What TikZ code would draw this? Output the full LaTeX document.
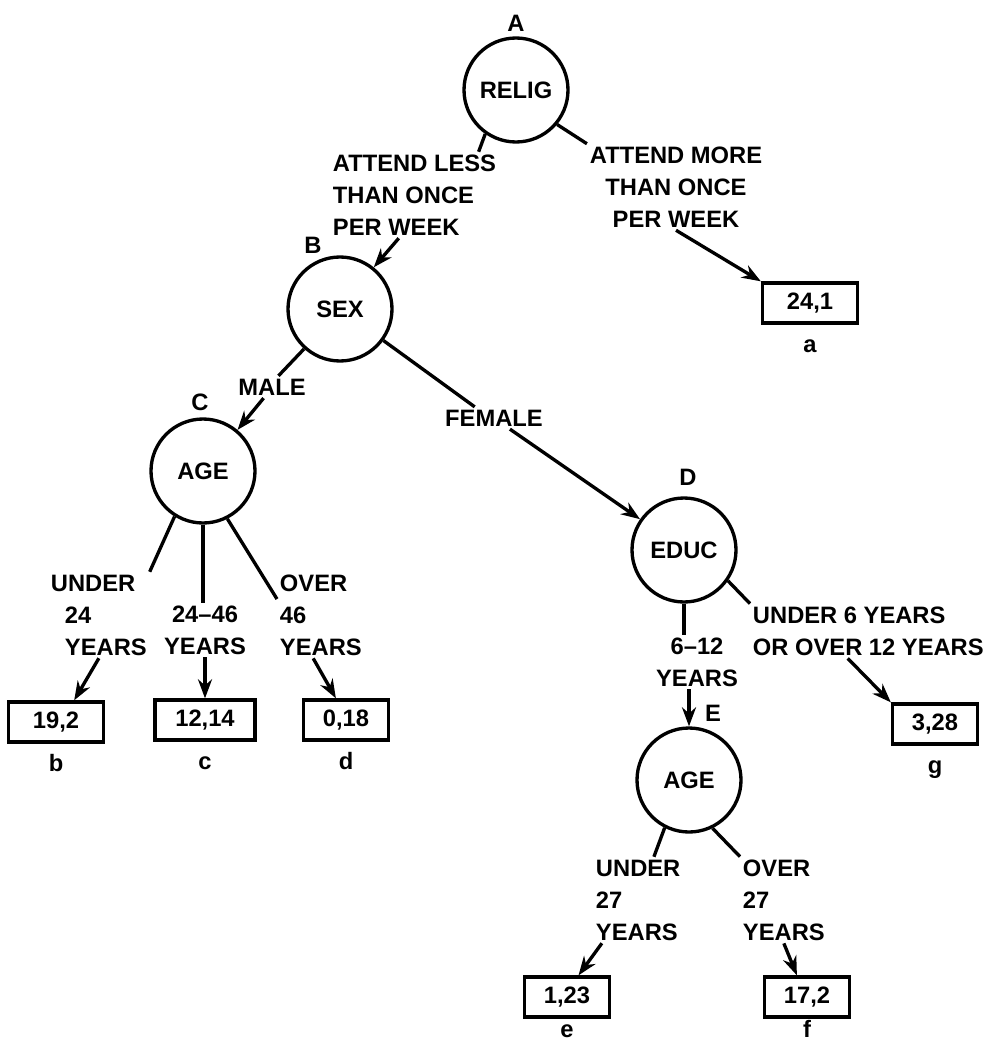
\documentclass[tikz,border=0pt]{standalone}
\usepackage{fontspec}
\setmainfont{Liberation Sans}
\usetikzlibrary{arrows.meta,positioning}
\tikzset{
  split/.style ={circle,draw=black,line width=1.9pt,minimum size=2.08cm,
                 inner sep=0pt,font=\bfseries\fontsize{13.5}{16}\selectfont},
  leaf/.style  ={rectangle,draw=black,line width=1.9pt,minimum width=1.7cm,
                 minimum height=0.8cm,inner sep=2pt,
                 font=\bfseries\fontsize{13.5}{16}\selectfont},
  cond/.style  ={font=\bfseries\fontsize{13.5}{18.2}\selectfont,inner sep=1.5pt},
  letr/.style  ={font=\bfseries\fontsize{13.5}{16}\selectfont,inner sep=1pt},
  tag/.style   ={letr,text height=0.75em,text depth=0pt},
  br/.style    ={draw=black,line width=1.9pt},
  brarr/.style ={->,draw=black,line width=1.9pt},
}

\begin{document}
\begin{tikzpicture}[
  >={Stealth[length=3.8mm,width=2.8mm]},
  x=2cm, y=-2cm,
]
\useasboundingbox (0,0) rectangle (9.92,10.48);

% splitting variables
\node[split] (A) at (5.16,0.90) {RELIG};
\node[split] (B) at (3.40,3.09) {SEX};
\node[split] (C) at (2.03,4.71) {AGE};
\node[split] (D) at (6.84,5.50) {EDUC};
\node[split] (E) at (6.89,7.80) {AGE};

\node[letr] (lA) at (5.16,0.23) {A};
\node[letr] (lB) at (3.13,2.45) {B};
\node[letr] (lC) at (2.00,4.02) {C};
\node[letr] (lD) at (6.88,4.77) {D};
\node[letr] (lE) at (7.13,7.13) {E};

% branch conditions
\node[cond,anchor=west,align=left] (tLess) at (3.30,1.95)
      {ATTEND LESS\\THAN ONCE\\PER WEEK};
\node[cond,align=center] (tMore) at (6.76,1.87)
      {ATTEND MORE\\THAN ONCE\\PER WEEK};
\node[cond] (tMale)   at (2.72,3.87) {MALE};
\node[cond] (tFemale) at (4.94,4.18) {FEMALE};
\node[cond,anchor=west,align=left] (tU24) at (0.48,6.15)
      {UNDER\\\hspace*{0.28cm}24\\\hspace*{0.28cm}YEARS};
\node[cond,align=center] (t2446) at (2.05,6.30) {24--46\\YEARS};
\node[cond,anchor=west,align=left] (tO46) at (2.77,6.15) {OVER\\46\\YEARS};
\node[cond,align=center] (t612) at (6.97,6.62) {6--12\\YEARS};
\node[cond,anchor=west,align=left] (tOut) at (7.50,6.31)
      {UNDER 6 YEARS\\OR OVER 12 YEARS};
\node[cond,anchor=west,align=left] (tU27) at (5.93,9.00) {UNDER\\27\\YEARS};
\node[cond,anchor=west,align=left] (tO27) at (7.40,9.00) {OVER\\27\\YEARS};

% terminal groups
\node[leaf,minimum width=1.9cm] (a) at (8.10,3.03) {24,1};
\node[leaf,minimum width=1.9cm] (b) at (0.56,7.22) {19,2};
\node[leaf,minimum width=2.0cm] (c) at (2.05,7.20) {12,14};
\node[leaf] (d) at (3.46,7.20) {0,18};
\node[leaf] (g) at (9.35,7.24) {3,28};
\node[leaf] (e) at (5.67,9.97) {1,23};
\node[leaf] (f) at (8.07,9.97) {17,2};

\node[tag,below=2.5mm of a] (la) {a};
\node[tag,below=2.5mm of b] (lb) {b};
\node[tag,below=2.5mm of c] (lc) {c};
\node[tag,below=2.5mm of d] (ld) {d};
\node[tag,below=2.5mm of g] (lg) {g};
\node[tag,below=0.8mm of e] (le) {e};
\node[tag,below=0.8mm of f] (lf) {f};

\draw[br]    (A.235) -- (tLess.34);
\draw[brarr] (tLess.250) -- (B.51);
\draw[br]    (A.320) -- (tMore.north west);
\draw[brarr] (tMore.south) -- (a.north west);

\draw[br]    (B.228) -- (tMale.60);
\draw[brarr] (tMale.233) -- (C.50);
\draw[br]    (B.324) -- (tFemale.150);
\draw[brarr] (tFemale.325) -- (D.145);

\draw[br]    (C.238) -- (tU24.north east);
\draw[brarr] (tU24.south) -- (b.50);
\draw[br]    (C.south) -- (C.south |- t2446.north);
\draw[brarr] (t2446.south) -- (c.north);
\draw[br]    (C.297) -- (tO46.160);
\draw[brarr] (tO46.260) -- (d.115);

\draw[br]    (D.south) -- (D.south |- t612.north);
\draw[brarr] (E.north |- t612.south) -- (E.north);
\draw[br]    (D.325) -- (tOut.north west);
\draw[brarr] (tOut.233) -- (g.north west);

\draw[br]    (E.243) -- (tU27.70);
\draw[brarr] (tU27.230) -- (e.62);
\draw[br]    (E.296) -- (tO27.north west);
\draw[brarr] (tO27.south) -- (f.115);

\end{tikzpicture}
\end{document}
